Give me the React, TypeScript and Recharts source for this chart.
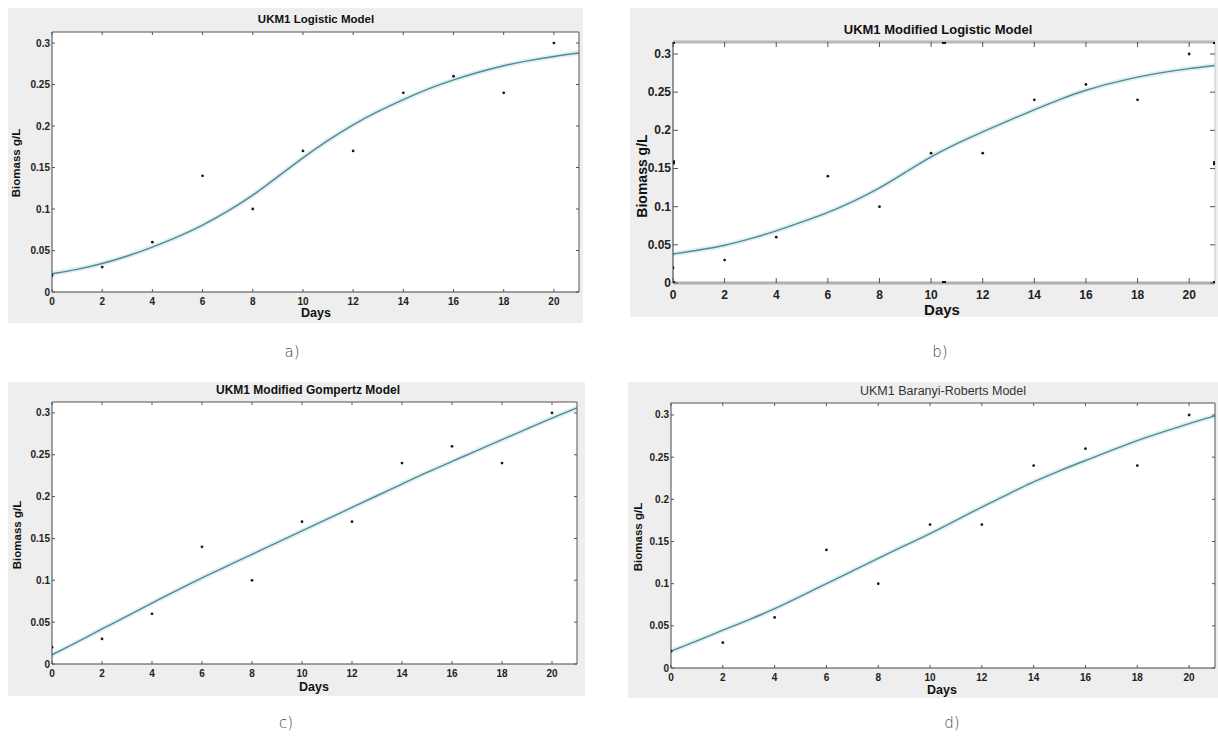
import { ComposedChart, Line, Scatter, XAxis, YAxis } from "recharts";

// measured biomass (g/L) per day, same in all four panels
const pointDays = [0, 2, 4, 6, 8, 10, 12, 14, 16, 18, 20];
const biomass = [0.02, 0.03, 0.06, 0.14, 0.1, 0.17, 0.17, 0.24, 0.26, 0.24, 0.3];

// fitted curves, one value per day
const curveDays = [0, 1, 2, 3, 4, 5, 6, 7, 8, 9, 10, 11, 12, 13, 14, 15, 16, 17, 18, 19, 20, 21];
const logisticFit = [0.022, 0.027, 0.034, 0.043, 0.054, 0.066, 0.08, 0.097, 0.116, 0.139, 0.162, 0.183, 0.202, 0.218, 0.232, 0.245, 0.256, 0.265, 0.273, 0.279, 0.284, 0.288];
const modLogisticFit = [0.038, 0.043, 0.049, 0.058, 0.068, 0.08, 0.092, 0.107, 0.124, 0.145, 0.166, 0.183, 0.198, 0.213, 0.227, 0.241, 0.253, 0.262, 0.27, 0.276, 0.281, 0.285];
const gompertzFit = [0.011, 0.026, 0.042, 0.057, 0.073, 0.088, 0.103, 0.117, 0.131, 0.145, 0.159, 0.173, 0.187, 0.201, 0.215, 0.229, 0.242, 0.255, 0.268, 0.281, 0.294, 0.306];
const baranyiFit = [0.02, 0.032, 0.045, 0.057, 0.07, 0.085, 0.1, 0.115, 0.13, 0.145, 0.159, 0.175, 0.191, 0.206, 0.221, 0.234, 0.246, 0.258, 0.27, 0.28, 0.29, 0.299];

// selection handles visible on panel b
const handleDays = [0, 10.5, 21, 0, 21, 0, 10.5, 21];
const handleLevels = [0.3157, 0.3157, 0.3157, 0.158, 0.157, 0, 0, 0];

const xTicks = [0, 2, 4, 6, 8, 10, 12, 14, 16, 18, 20];
const yTicks = [0, 0.05, 0.1, 0.15, 0.2, 0.25, 0.3];

const FONT = '"Liberation Sans", Arial, sans-serif';

const zip = (xs: number[], ys: number[]) => xs.map((x, i) => ({ x, y: ys[i] }));
const points = zip(pointDays, biomass);

const panels = [
  {
    key: "a",
    box: { left: 8, top: 8, width: 575, height: 315 },
    plot: { top: 24, right: 4, bottom: 31, left: 44 },
    yMax: 0.3133,
    fit: logisticFit,
    title: "UKM1 Logistic Model",
    titleAt: [316, 19],
    titleSize: 11.5,
    titleWeight: 700,
    ylabAt: [16, 163],
    daysAt: [316, 313],
    labSize: 11.5,
    tag: "a)",
    tagAt: [292, 352],
    tickFont: 10,
    xGap: 9,
    tickLen: 3,
    frame: { bottom: ["#444", 1], left: ["#444", 1], top: ["#555", 1], right: ["#555", 1] },
  },
  {
    key: "b",
    box: { left: 630, top: 8, width: 588, height: 309 },
    plot: { top: 34, right: 3, bottom: 34, left: 43 },
    yMax: 0.3157,
    fit: modLogisticFit,
    title: "UKM1 Modified Logistic Model",
    titleAt: [938, 29],
    titleSize: 13,
    titleWeight: 700,
    ylabAt: [642, 176],
    daysAt: [942, 309],
    labSize: 14,
    tag: "b)",
    tagAt: [940, 352],
    tickFont: 12,
    xGap: 12,
    tickLen: 5,
    handles: zip(handleDays, handleLevels),
    frame: { bottom: ["#b0b0b0", 3], left: ["#333", 1], top: ["#b8b8b8", 3], right: ["#c8c8c8", 1] },
  },
  {
    key: "c",
    box: { left: 8, top: 382, width: 577, height: 314 },
    plot: { top: 20, right: 8, bottom: 32, left: 44 },
    yMax: 0.313,
    fit: gompertzFit,
    title: "UKM1 Modified Gompertz Model",
    titleAt: [308, 390],
    titleSize: 12,
    titleWeight: 700,
    ylabAt: [17, 535],
    daysAt: [314, 687],
    labSize: 11.5,
    tag: "c)",
    tagAt: [286, 723],
    tickFont: 10,
    xGap: 9,
    tickLen: 3,
    frame: { bottom: ["#444", 1], left: ["#444", 1], top: ["#555", 1], right: ["#555", 1] },
  },
  {
    key: "d",
    box: { left: 628, top: 382, width: 590, height: 316 },
    plot: { top: 21, right: 3, bottom: 30, left: 43 },
    yMax: 0.3142,
    fit: baranyiFit,
    title: "UKM1 Baranyi-Roberts Model",
    titleAt: [943, 391],
    titleSize: 12.5,
    titleWeight: 400,
    ylabAt: [638, 537],
    daysAt: [942, 690],
    labSize: 11.5,
    tag: "d)",
    tagAt: [952, 723],
    tickFont: 10,
    xGap: 9,
    tickLen: 3,
    frame: { bottom: ["#444", 1], left: ["#444", 1], top: ["#555", 1], right: ["#555", 1] },
  },
];

const centered = (x: number, y: number, extra = {}) => ({
  position: "absolute" as const,
  left: x,
  top: y,
  transform: "translate(-50%, -50%)",
  whiteSpace: "nowrap" as const,
  fontFamily: FONT,
  color: "#111",
  ...extra,
});

function Panel({ p }: { p: any }) {
  const curve = zip(curveDays, p.fit);
  const tickColor = "#555";
  const txt = { fontSize: p.tickFont, fontWeight: 700, fill: "#222", fontFamily: FONT };
  // each axis takes 1px, so the margin is one less than the plot inset
  const margin = {
    top: p.plot.top - 1,
    right: p.plot.right - 1,
    bottom: p.plot.bottom - 1,
    left: p.plot.left - 1,
  };

  const bottomTick = (t: any) => (
    <g>
      <line x1={t.x} x2={t.x} y1={t.y} y2={t.y - p.tickLen} stroke={tickColor} />
      <text x={t.x} y={t.y + p.xGap} textAnchor="middle" dominantBaseline="central" {...txt}>
        {t.payload.value}
      </text>
    </g>
  );
  const topTick = (t: any) => <line x1={t.x} x2={t.x} y1={t.y} y2={t.y + p.tickLen} stroke={tickColor} />;
  const leftTick = (t: any) => (
    <g>
      <line x1={t.x} x2={t.x + p.tickLen} y1={t.y} y2={t.y} stroke={tickColor} />
      <text x={t.x - 2} y={t.y} textAnchor="end" dominantBaseline="central" {...txt}>
        {t.payload.value}
      </text>
    </g>
  );
  const rightTick = (t: any) => <line x1={t.x} x2={t.x - p.tickLen} y1={t.y} y2={t.y} stroke={tickColor} />;

  const dot = (s: any) => <circle cx={s.cx} cy={s.cy} r={1.4} fill="#1a1a1a" />;
  const square = (s: any) => <rect x={s.cx - 2} y={s.cy - 2} width={4} height={4} fill="#111" />;

  const axisCommon = {
    dataKey: "x",
    type: "number" as const,
    tickSize: 0,
    tickMargin: 0,
    tickLine: false,
    allowDataOverflow: true,
  };

  return (
    <>
      <div
        style={{
          position: "absolute",
          left: p.box.left,
          top: p.box.top,
          width: p.box.width,
          height: p.box.height,
          background: "#eeeeee",
        }}
      >
        <div style={{ position: "absolute", left: p.plot.left, top: p.plot.top, right: p.plot.right, bottom: p.plot.bottom, background: "#fff" }} />
        <ComposedChart width={p.box.width} height={p.box.height} margin={margin} style={{ position: "absolute", left: 0, top: 0 }}>
          <XAxis
            {...axisCommon}
            domain={[0, 21]}
            ticks={xTicks}
            height={1}
            tick={bottomTick}
            axisLine={{ stroke: p.frame.bottom[0], strokeWidth: p.frame.bottom[1] }}
          />
          <XAxis
            {...axisCommon}
            xAxisId="top"
            orientation="top"
            domain={[0, 21]}
            ticks={xTicks}
            height={1}
            tick={topTick}
            axisLine={{ stroke: p.frame.top[0], strokeWidth: p.frame.top[1] }}
          />
          <YAxis
            {...axisCommon}
            dataKey="y"
            domain={[0, p.yMax]}
            ticks={yTicks}
            width={1}
            tick={leftTick}
            axisLine={{ stroke: p.frame.left[0], strokeWidth: p.frame.left[1] }}
          />
          <YAxis
            {...axisCommon}
            dataKey="y"
            yAxisId="right"
            orientation="right"
            domain={[0, p.yMax]}
            ticks={yTicks}
            width={1}
            tick={rightTick}
            axisLine={{ stroke: p.frame.right[0], strokeWidth: p.frame.right[1] }}
          />
          <Line data={curve} dataKey="y" type="basis" stroke="#dcf1f5" strokeWidth={5} dot={false} isAnimationActive={false} />
          <Line data={curve} dataKey="y" type="basis" stroke="#5a8690" strokeWidth={1.4} dot={false} isAnimationActive={false} />
          <Scatter data={points} dataKey="y" shape={dot} isAnimationActive={false} />
          {p.handles && <Scatter data={p.handles} dataKey="y" shape={square} isAnimationActive={false} />}
        </ComposedChart>
      </div>
      <div style={centered(p.titleAt[0], p.titleAt[1], { fontSize: p.titleSize, fontWeight: p.titleWeight, color: p.titleWeight === 400 ? "#333" : "#111" })}>
        {p.title}
      </div>
      <div style={centered(p.ylabAt[0], p.ylabAt[1], { fontSize: p.labSize, fontWeight: 700, transform: "translate(-50%, -50%) rotate(-90deg)" })}>
        Biomass g/L
      </div>
      <div style={centered(p.daysAt[0], p.daysAt[1], { fontSize: p.labSize + 1, fontWeight: 700 })}>Days</div>
      <div style={centered(p.tagAt[0], p.tagAt[1], { fontSize: 15, color: "#444", fontFamily: '"DejaVu Sans", sans-serif', fontWeight: 300 })}>
        {p.tag}
      </div>
    </>
  );
}

export default function App() {
  return (
    <div style={{ position: "absolute", left: 0, top: 0, width: 1218, height: 736, background: "#fff", overflow: "hidden" }}>
      {panels.map((p) => (
        <Panel key={p.key} p={p} />
      ))}
    </div>
  );
}
